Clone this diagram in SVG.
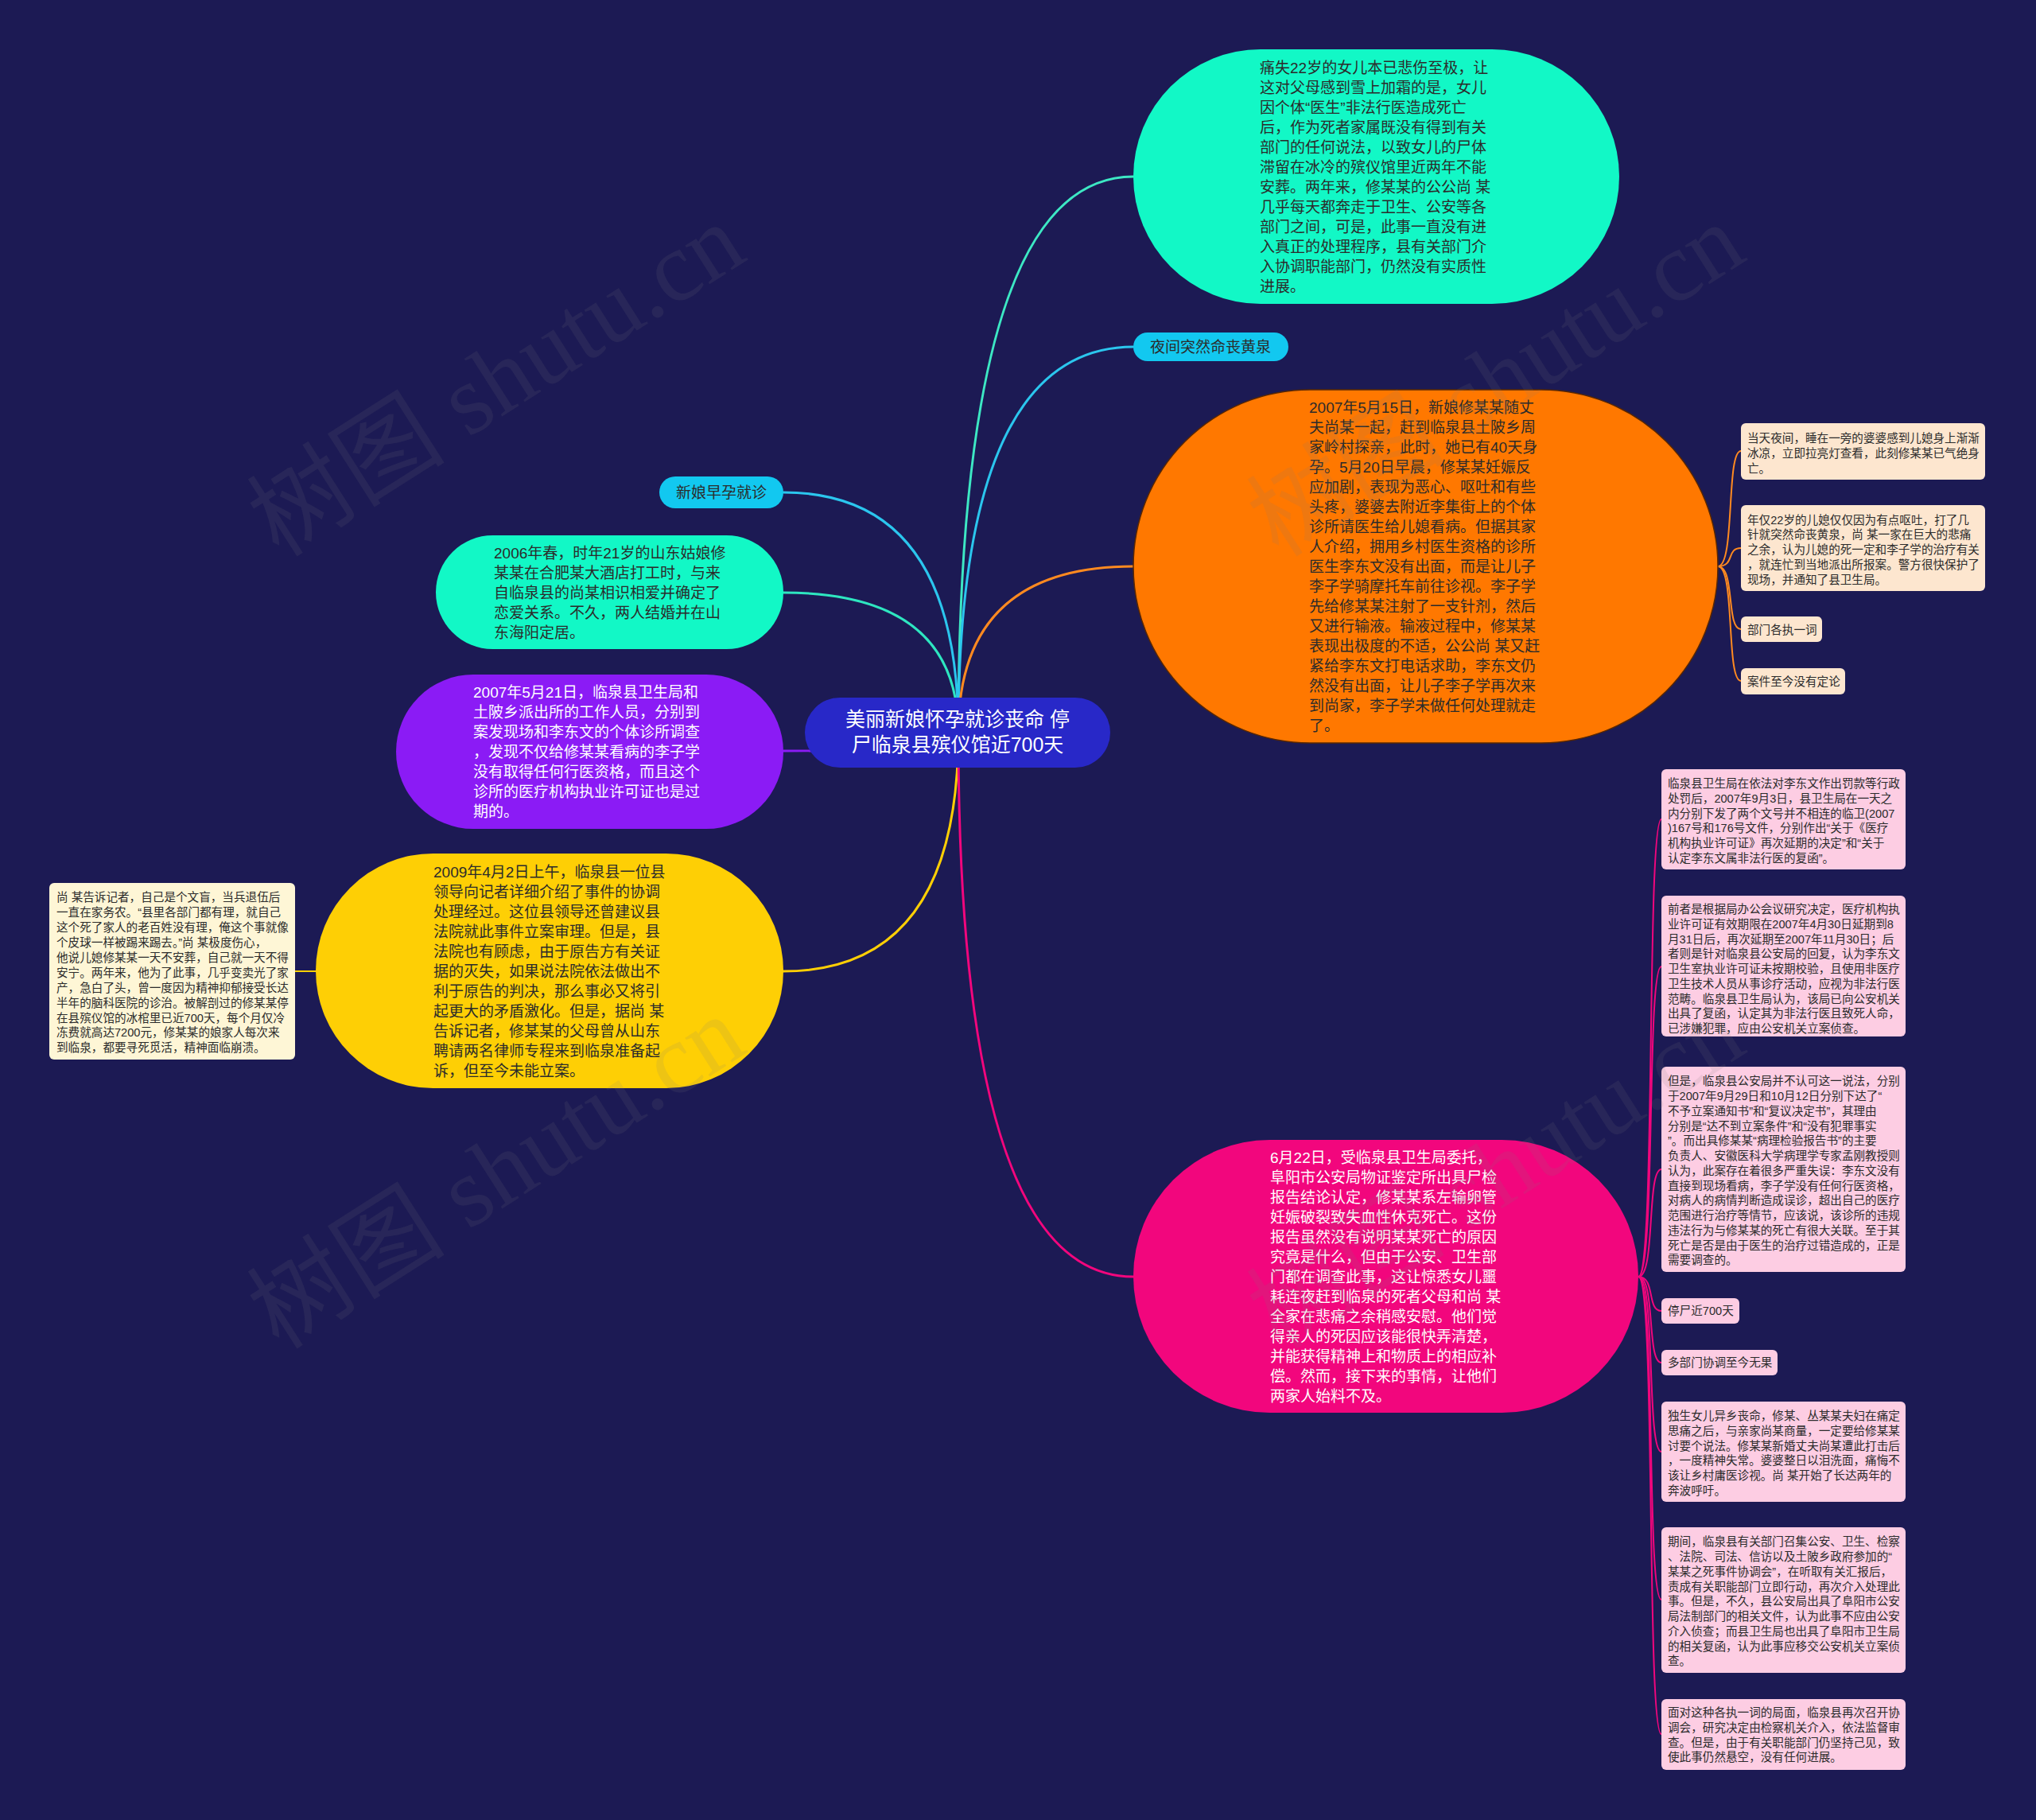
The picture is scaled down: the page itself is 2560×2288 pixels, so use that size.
<svg xmlns="http://www.w3.org/2000/svg" width="2560" height="2288" viewBox="0 0 2560 2288">
<style>
.f { font-family: "Liberation Sans", "Noto Sans CJK SC", sans-serif; }
.t19 { font-size: 19px; }
.t25 { font-size: 25px; }
.t15 { font-size: 14.6px; }
.dk { fill: #2b2b2b; }
.wt { fill: #ffffff; }
.ln { fill: none; stroke-width: 3; stroke-linecap: round; }
.sl { fill: none; stroke-width: 2; stroke-linecap: round; }
.wm { font-family: "Liberation Serif", "Noto Sans CJK SC", serif; font-size: 125px; fill: #7a7a7a; fill-opacity: 0.13; }
</style>
<rect x="0" y="0" width="2560" height="2288" fill="#1c1a54"/>

<g id="connectors">
  <path class="ln" stroke="#3de8c4" d="M1205 921 Q1205 222 1425 222"/>
  <path class="ln" stroke="#2bc6ee" d="M1205 921 Q1205 436 1425 436"/>
  <path class="ln" stroke="#ff8a20" d="M1205 921 Q1205 712 1425 712"/>
  <path class="ln" stroke="#2bc6ee" d="M985 619 Q1205 619 1205 921"/>
  <path class="ln" stroke="#2ee6c0" d="M985 745 Q1205 745 1205 921"/>
  <path class="ln" stroke="#8b1bf5" d="M985 944 Q1205 944 1205 921"/>
  <path class="ln" stroke="#fecf05" d="M985 1221 Q1205 1221 1205 921"/>
  <path class="ln" stroke="#f2067d" d="M1205 921 Q1205 1605 1425 1605"/>
  <path class="sl" stroke="#fecf05" d="M397 1221 L371 1221"/>
  <g stroke="#ff8a20">
    <path class="sl" d="M2160 712 C2182 712 2170 567 2189 567"/>
    <path class="sl" d="M2160 712 C2182 712 2170 689 2189 689"/>
    <path class="sl" d="M2160 712 C2182 712 2170 791 2189 791"/>
    <path class="sl" d="M2160 712 C2182 712 2170 856 2189 856"/>
  </g>
  <g stroke="#f2067d">
    <path class="sl" d="M2060 1605 C2082 1605 2070 1030 2089 1030"/>
    <path class="sl" d="M2060 1605 C2082 1605 2070 1215 2089 1215"/>
    <path class="sl" d="M2060 1605 C2082 1605 2070 1470 2089 1470"/>
    <path class="sl" d="M2060 1605 C2082 1605 2070 1648 2089 1648"/>
    <path class="sl" d="M2060 1605 C2082 1605 2070 1713 2089 1713"/>
    <path class="sl" d="M2060 1605 C2082 1605 2070 1825 2089 1825"/>
    <path class="sl" d="M2060 1605 C2082 1605 2070 2011 2089 2011"/>
    <path class="sl" d="M2060 1605 C2082 1605 2070 2180 2089 2180"/>
  </g>
</g>

<g id="center">
  <rect x="1012" y="877" width="384" height="88" rx="44" fill="#2828c8"/>
  <text class="f t25 wt" text-anchor="middle"><tspan x="1204" y="913">美丽新娘怀孕就诊丧命 停</tspan><tspan x="1204" y="945">尸临泉县殡仪馆近700天</tspan></text>
</g>

<g id="n-top">
  <rect x="1425" y="62" width="611" height="320" rx="160" fill="#12f8c6"/>
  <text class="f t19 dk" x="1584" y="91.5"><tspan x="1584" dy="0">痛失22岁的女儿本已悲伤至极，让</tspan><tspan x="1584" dy="25">这对父母感到雪上加霜的是，女儿</tspan><tspan x="1584" dy="25">因个体“医生”非法行医造成死亡</tspan><tspan x="1584" dy="25">后，作为死者家属既没有得到有关</tspan><tspan x="1584" dy="25">部门的任何说法，以致女儿的尸体</tspan><tspan x="1584" dy="25">滞留在冰冷的殡仪馆里近两年不能</tspan><tspan x="1584" dy="25">安葬。两年来，修某某的公公尚 某</tspan><tspan x="1584" dy="25">几乎每天都奔走于卫生、公安等各</tspan><tspan x="1584" dy="25">部门之间，可是，此事一直没有进</tspan><tspan x="1584" dy="25">入真正的处理程序，县有关部门介</tspan><tspan x="1584" dy="25">入协调职能部门，仍然没有实质性</tspan><tspan x="1584" dy="25">进展。</tspan></text>
</g>

<g id="n-night">
  <rect x="1425" y="418" width="195" height="36" rx="18" fill="#12c8f0"/>
  <text class="f t19 dk" x="1522" y="443" text-anchor="middle">夜间突然命丧黄泉</text>
</g>

<g id="n-orange">
  <rect x="1425" y="490" width="735" height="444" rx="222" fill="#ff7800" stroke="#5a2800" stroke-width="1.5"/>
  <text class="f t19 dk" x="1646" y="519"><tspan x="1646" dy="0">2007年5月15日，新娘修某某随丈</tspan><tspan x="1646" dy="25">夫尚某一起，赶到临泉县土陂乡周</tspan><tspan x="1646" dy="25">家岭村探亲，此时，她已有40天身</tspan><tspan x="1646" dy="25">孕。5月20日早晨，修某某妊娠反</tspan><tspan x="1646" dy="25">应加剧，表现为恶心、呕吐和有些</tspan><tspan x="1646" dy="25">头疼，婆婆去附近李集街上的个体</tspan><tspan x="1646" dy="25">诊所请医生给儿媳看病。但据其家</tspan><tspan x="1646" dy="25">人介绍，拥用乡村医生资格的诊所</tspan><tspan x="1646" dy="25">医生李东文没有出面，而是让儿子</tspan><tspan x="1646" dy="25">李子学骑摩托车前往诊视。李子学</tspan><tspan x="1646" dy="25">先给修某某注射了一支针剂，然后</tspan><tspan x="1646" dy="25">又进行输液。输液过程中，修某某</tspan><tspan x="1646" dy="25">表现出极度的不适，公公尚 某又赶</tspan><tspan x="1646" dy="25">紧给李东文打电话求助，李东文仍</tspan><tspan x="1646" dy="25">然没有出面，让儿子李子学再次来</tspan><tspan x="1646" dy="25">到尚家，李子学未做任何处理就走</tspan><tspan x="1646" dy="25">了。</tspan></text>
</g>

<g id="o-note1">
  <rect x="2189" y="532" width="307" height="71" rx="6" fill="#fde6cf"/>
  <text class="f t15 dk" x="2197" y="556"><tspan x="2197" dy="0">当天夜间，睡在一旁的婆婆感到儿媳身上渐渐</tspan><tspan x="2197" dy="18.8">冰凉，立即拉亮灯查看，此刻修某某已气绝身</tspan><tspan x="2197" dy="18.8">亡。</tspan></text>
</g>
<g id="o-note2">
  <rect x="2189" y="635" width="307" height="108" rx="6" fill="#fde6cf"/>
  <text class="f t15 dk" x="2197" y="658.5"><tspan x="2197" dy="0">年仅22岁的儿媳仅仅因为有点呕吐，打了几</tspan><tspan x="2197" dy="18.75">针就突然命丧黄泉，尚 某一家在巨大的悲痛</tspan><tspan x="2197" dy="18.75">之余，认为儿媳的死一定和李子学的治疗有关</tspan><tspan x="2197" dy="18.75">，就连忙到当地派出所报案。警方很快保护了</tspan><tspan x="2197" dy="18.75">现场，并通知了县卫生局。</tspan></text>
</g>
<g id="o-note3">
  <rect x="2189" y="775" width="102" height="32" rx="6" fill="#fde6cf"/>
  <text class="f t15 dk" x="2197" y="797.3">部门各执一词</text>
</g>
<g id="o-note4">
  <rect x="2189" y="840" width="131" height="33" rx="6" fill="#fde6cf"/>
  <text class="f t15 dk" x="2197" y="862.3">案件至今没有定论</text>
</g>

<g id="n-pregnant">
  <rect x="829" y="599" width="156" height="40" rx="20" fill="#12c8f0"/>
  <text class="f t19 dk" x="907" y="626" text-anchor="middle">新娘早孕就诊</text>
</g>

<g id="n-green">
  <rect x="548" y="673" width="437" height="143" rx="71.5" fill="#12f8c6"/>
  <text class="f t19 dk" x="621" y="701.5"><tspan x="621" dy="0">2006年春，时年21岁的山东姑娘修</tspan><tspan x="621" dy="25">某某在合肥某大酒店打工时，与来</tspan><tspan x="621" dy="25">自临泉县的尚某相识相爱并确定了</tspan><tspan x="621" dy="25">恋爱关系。不久，两人结婚并在山</tspan><tspan x="621" dy="25">东海阳定居。</tspan></text>
</g>

<g id="n-purple">
  <rect x="498" y="848" width="487" height="194" rx="97" fill="#8b1bf5"/>
  <text class="f t19 wt" x="595" y="877"><tspan x="595" dy="0">2007年5月21日，临泉县卫生局和</tspan><tspan x="595" dy="25">土陂乡派出所的工作人员，分别到</tspan><tspan x="595" dy="25">案发现场和李东文的个体诊所调查</tspan><tspan x="595" dy="25">，发现不仅给修某某看病的李子学</tspan><tspan x="595" dy="25">没有取得任何行医资格，而且这个</tspan><tspan x="595" dy="25">诊所的医疗机构执业许可证也是过</tspan><tspan x="595" dy="25">期的。</tspan></text>
</g>

<g id="n-yellow">
  <rect x="397" y="1073" width="588" height="295" rx="147.5" fill="#fecf05"/>
  <text class="f t19 dk" x="545" y="1102.5"><tspan x="545" dy="0">2009年4月2日上午，临泉县一位县</tspan><tspan x="545" dy="25">领导向记者详细介绍了事件的协调</tspan><tspan x="545" dy="25">处理经过。这位县领导还曾建议县</tspan><tspan x="545" dy="25">法院就此事件立案审理。但是，县</tspan><tspan x="545" dy="25">法院也有顾虑，由于原告方有关证</tspan><tspan x="545" dy="25">据的灭失，如果说法院依法做出不</tspan><tspan x="545" dy="25">利于原告的判决，那么事必又将引</tspan><tspan x="545" dy="25">起更大的矛盾激化。但是，据尚 某</tspan><tspan x="545" dy="25">告诉记者，修某某的父母曾从山东</tspan><tspan x="545" dy="25">聘请两名律师专程来到临泉准备起</tspan><tspan x="545" dy="25">诉，但至今未能立案。</tspan></text>
</g>

<g id="y-note">
  <rect x="62" y="1110" width="309" height="222" rx="6" fill="#fef6d6"/>
  <text class="f t15 dk" x="71" y="1133.3"><tspan x="71" dy="0">尚 某告诉记者，自己是个文盲，当兵退伍后</tspan><tspan x="71" dy="18.9">一直在家务农。“县里各部门都有理，就自己</tspan><tspan x="71" dy="18.9">这个死了家人的老百姓没有理，俺这个事就像</tspan><tspan x="71" dy="18.9">个皮球一样被踢来踢去。”尚 某极度伤心，</tspan><tspan x="71" dy="18.9">他说儿媳修某某一天不安葬，自己就一天不得</tspan><tspan x="71" dy="18.9">安宁。两年来，他为了此事，几乎变卖光了家</tspan><tspan x="71" dy="18.9">产，急白了头，曾一度因为精神抑郁接受长达</tspan><tspan x="71" dy="18.9">半年的脑科医院的诊治。被解剖过的修某某停</tspan><tspan x="71" dy="18.9">在县殡仪馆的冰棺里已近700天，每个月仅冷</tspan><tspan x="71" dy="18.9">冻费就高达7200元，修某某的娘家人每次来</tspan><tspan x="71" dy="18.9">到临泉，都要寻死觅活，精神面临崩溃。</tspan></text>
</g>

<g id="n-pink">
  <rect x="1425" y="1433" width="635" height="343" rx="171.5" fill="#f2067d"/>
  <text class="f t19 wt" x="1597" y="1461.5"><tspan x="1597" dy="0">6月22日，受临泉县卫生局委托，</tspan><tspan x="1597" dy="25">阜阳市公安局物证鉴定所出具尸检</tspan><tspan x="1597" dy="25">报告结论认定，修某某系左输卵管</tspan><tspan x="1597" dy="25">妊娠破裂致失血性休克死亡。这份</tspan><tspan x="1597" dy="25">报告虽然没有说明某某死亡的原因</tspan><tspan x="1597" dy="25">究竟是什么，但由于公安、卫生部</tspan><tspan x="1597" dy="25">门都在调查此事，这让惊悉女儿噩</tspan><tspan x="1597" dy="25">耗连夜赶到临泉的死者父母和尚 某</tspan><tspan x="1597" dy="25">全家在悲痛之余稍感安慰。他们觉</tspan><tspan x="1597" dy="25">得亲人的死因应该能很快弄清楚，</tspan><tspan x="1597" dy="25">并能获得精神上和物质上的相应补</tspan><tspan x="1597" dy="25">偿。然而，接下来的事情，让他们</tspan><tspan x="1597" dy="25">两家人始料不及。</tspan></text>
</g>

<g id="p-note1">
  <rect x="2089" y="967" width="307" height="126" rx="6" fill="#fdcde3"/>
  <text class="f t15 dk" x="2097" y="990.3"><tspan x="2097" dy="0">临泉县卫生局在依法对李东文作出罚款等行政</tspan><tspan x="2097" dy="18.7">处罚后，2007年9月3日，县卫生局在一天之</tspan><tspan x="2097" dy="18.7">内分别下发了两个文号并不相连的临卫(2007</tspan><tspan x="2097" dy="18.7">)167号和176号文件，分别作出“关于《医疗</tspan><tspan x="2097" dy="18.7">机构执业许可证》再次延期的决定”和“关于</tspan><tspan x="2097" dy="18.7">认定李东文属非法行医的复函”。</tspan></text>
</g>
<g id="p-note2">
  <rect x="2089" y="1126" width="307" height="177" rx="6" fill="#fdcde3"/>
  <text class="f t15 dk" x="2097" y="1148.3"><tspan x="2097" dy="0">前者是根据局办公会议研究决定，医疗机构执</tspan><tspan x="2097" dy="18.7">业许可证有效期限在2007年4月30日延期到8</tspan><tspan x="2097" dy="18.7">月31日后，再次延期至2007年11月30日；后</tspan><tspan x="2097" dy="18.7">者则是针对临泉县公安局的回复，认为李东文</tspan><tspan x="2097" dy="18.7">卫生室执业许可证未按期校验，且使用非医疗</tspan><tspan x="2097" dy="18.7">卫生技术人员从事诊疗活动，应视为非法行医</tspan><tspan x="2097" dy="18.7">范畴。临泉县卫生局认为，该局已向公安机关</tspan><tspan x="2097" dy="18.7">出具了复函，认定其为非法行医且致死人命，</tspan><tspan x="2097" dy="18.7">已涉嫌犯罪，应由公安机关立案侦查。</tspan></text>
</g>
<g id="p-note3">
  <rect x="2089" y="1341" width="307" height="258" rx="6" fill="#fdcde3"/>
  <text class="f t15 dk" x="2097" y="1364.3"><tspan x="2097" dy="0">但是，临泉县公安局并不认可这一说法，分别</tspan><tspan x="2097" dy="18.75">于2007年9月29日和10月12日分别下达了“</tspan><tspan x="2097" dy="18.75">不予立案通知书”和“复议决定书”，其理由</tspan><tspan x="2097" dy="18.75">分别是“达不到立案条件”和“没有犯罪事实</tspan><tspan x="2097" dy="18.75">”。而出具修某某“病理检验报告书”的主要</tspan><tspan x="2097" dy="18.75">负责人、安徽医科大学病理学专家孟刚教授则</tspan><tspan x="2097" dy="18.75">认为，此案存在着很多严重失误：李东文没有</tspan><tspan x="2097" dy="18.75">直接到现场看病，李子学没有任何行医资格，</tspan><tspan x="2097" dy="18.75">对病人的病情判断造成误诊，超出自己的医疗</tspan><tspan x="2097" dy="18.75">范围进行治疗等情节，应该说，该诊所的违规</tspan><tspan x="2097" dy="18.75">违法行为与修某某的死亡有很大关联。至于其</tspan><tspan x="2097" dy="18.75">死亡是否是由于医生的治疗过错造成的，正是</tspan><tspan x="2097" dy="18.75">需要调查的。</tspan></text>
</g>
<g id="p-note4">
  <rect x="2089" y="1632" width="98" height="32" rx="6" fill="#fdcde3"/>
  <text class="f t15 dk" x="2097" y="1653.3">停尸近700天</text>
</g>
<g id="p-note5">
  <rect x="2089" y="1697" width="146" height="32" rx="6" fill="#fdcde3"/>
  <text class="f t15 dk" x="2097" y="1718.3">多部门协调至今无果</text>
</g>
<g id="p-note6">
  <rect x="2089" y="1762" width="307" height="126" rx="6" fill="#fdcde3"/>
  <text class="f t15 dk" x="2097" y="1785.3"><tspan x="2097" dy="0">独生女儿异乡丧命，修某、丛某某夫妇在痛定</tspan><tspan x="2097" dy="18.7">思痛之后，与亲家尚某商量，一定要给修某某</tspan><tspan x="2097" dy="18.7">讨要个说法。修某某新婚丈夫尚某遭此打击后</tspan><tspan x="2097" dy="18.7">，一度精神失常。婆婆整日以泪洗面，痛悔不</tspan><tspan x="2097" dy="18.7">该让乡村庸医诊视。尚 某开始了长达两年的</tspan><tspan x="2097" dy="18.7">奔波呼吁。</tspan></text>
</g>
<g id="p-note7">
  <rect x="2089" y="1920" width="307" height="183" rx="6" fill="#fdcde3"/>
  <text class="f t15 dk" x="2097" y="1943.3"><tspan x="2097" dy="0">期间，临泉县有关部门召集公安、卫生、检察</tspan><tspan x="2097" dy="18.75">、法院、司法、信访以及土陂乡政府参加的“</tspan><tspan x="2097" dy="18.75">某某之死事件协调会”，在听取有关汇报后，</tspan><tspan x="2097" dy="18.75">责成有关职能部门立即行动，再次介入处理此</tspan><tspan x="2097" dy="18.75">事。但是，不久，县公安局出具了阜阳市公安</tspan><tspan x="2097" dy="18.75">局法制部门的相关文件，认为此事不应由公安</tspan><tspan x="2097" dy="18.75">介入侦查；而县卫生局也出具了阜阳市卫生局</tspan><tspan x="2097" dy="18.75">的相关复函，认为此事应移交公安机关立案侦</tspan><tspan x="2097" dy="18.75">查。</tspan></text>
</g>
<g id="p-note8">
  <rect x="2089" y="2136" width="307" height="89" rx="6" fill="#fdcde3"/>
  <text class="f t15 dk" x="2097" y="2158.3"><tspan x="2097" dy="0">面对这种各执一词的局面，临泉县再次召开协</tspan><tspan x="2097" dy="18.7">调会，研究决定由检察机关介入，依法监督审</tspan><tspan x="2097" dy="18.7">查。但是，由于有关职能部门仍坚持己见，致</tspan><tspan x="2097" dy="18.7">使此事仍然悬空，没有任何进展。</tspan></text>
</g>

<g id="watermark">
  <text class="wm" transform="translate(351 702) rotate(-32.5)">树图 shutu.cn</text>
  <text class="wm" transform="translate(1608 702) rotate(-32.5)">树图 shutu.cn</text>
  <text class="wm" transform="translate(351 1698) rotate(-32.5)">树图 shutu.cn</text>
  <text class="wm" transform="translate(1608 1698) rotate(-32.5)">树图 shutu.cn</text>
</g>
</svg>
